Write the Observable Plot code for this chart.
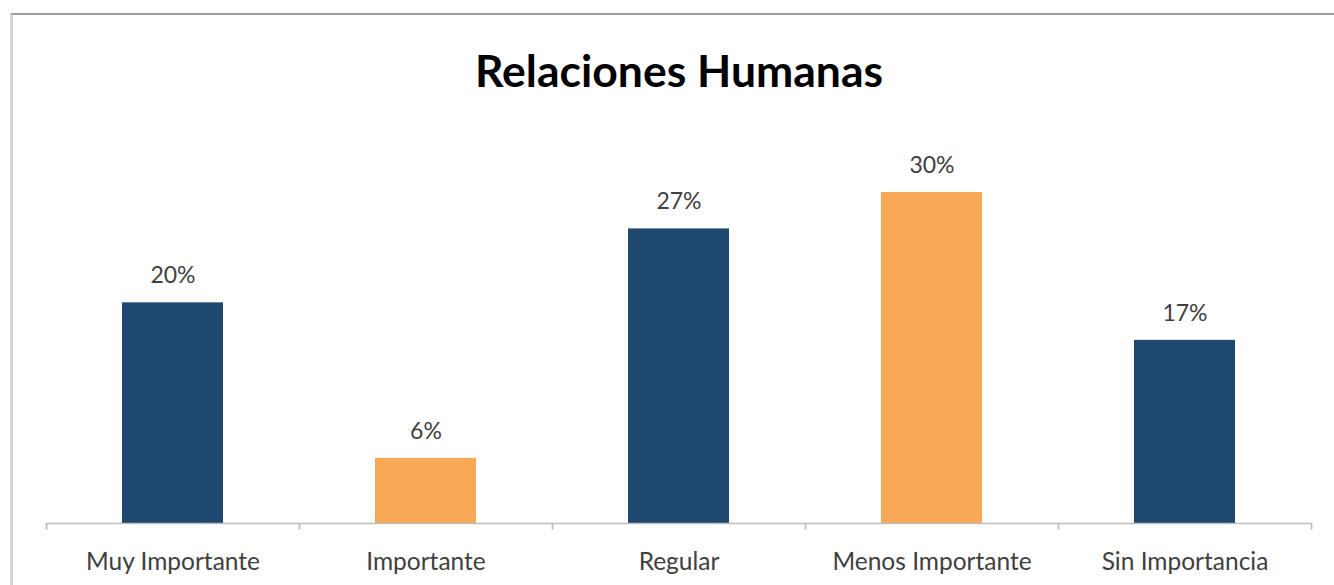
<!DOCTYPE html>
<html>
<head>
<meta charset="utf-8">
<script src="https://cdn.jsdelivr.net/npm/d3@7"></script>
<script src="https://cdn.jsdelivr.net/npm/@observablehq/plot@0.6"></script>
<style>
  html, body { margin: 0; padding: 0; background: #fff; overflow: hidden; }
  #wrap { position: relative; width: 1334px; height: 585px; }
  #frame { position: absolute; left: 10px; top: 13px; width: 1400px; height: 700px;
           border-top: 2px solid #9c9c9c; border-left: 3px solid #d4d4d4; box-sizing: border-box; }
  #chart { position: absolute; left: 0; top: 0; }
</style>
</head>
<body>
<div id="wrap"><div id="frame"></div><div id="chart"></div></div>
<script>
const title = "Relaciones Humanas";
const categories = ["Muy Importante", "Importante", "Regular", "Menos Importante", "Sin Importancia"];
const values = [20, 5.9, 26.7, 30, 16.6];
const valueLabels = ["20%", "6%", "27%", "30%", "17%"];
const colors = ["#1f4871", "#f9a857", "#1f4871", "#f9a857", "#1f4871"];

const data = categories.map((c, i) => ({cat: c, v: values[i], label: valueLabels[i], color: colors[i]}));

const left = 46, right = 1311;
const step = (right - left) / categories.length;
const font = "Lato, 'Open Sans', sans-serif";

const chart = Plot.plot({
  width: 1334,
  height: 585,
  marginTop: 0,
  marginLeft: left,
  marginRight: 1334 - right,
  marginBottom: 0,
  style: {fontFamily: font, background: "transparent"},
  x: {domain: categories, paddingInner: 0.6, paddingOuter: 0.3, axis: null},
  y: {domain: [0, 30], range: [523, 192], axis: null},
  marks: [
    Plot.barY(data, {x: "cat", y: "v", fill: "color"}),
    Plot.ruleY([0], {stroke: "#bdbdbd", strokeWidth: 1.6}),
    Plot.ruleX(categories, {x: d => d, dx: -step / 2, y1: 0, y2: -0.6, stroke: "#bdbdbd", strokeWidth: 1.8}),
    Plot.ruleX([categories[categories.length - 1]], {x: d => d, dx: step / 2, y1: 0, y2: -0.6, stroke: "#bdbdbd", strokeWidth: 1.8}),
    Plot.text(data, {x: "cat", y: "v", text: "label", dy: -27, lineAnchor: "middle", fontSize: 23, fill: "#404040"}),
    Plot.text(data, {x: "cat", y: 0, text: "cat", dy: 39, lineAnchor: "middle", fontSize: 24.5, fill: "#404040"}),
    Plot.text([title], {frameAnchor: "top", dy: 72, lineAnchor: "middle", fontSize: 44.5, fontWeight: "bold", fill: "#000", text: d => d})
  ]
});
document.getElementById("chart").appendChild(chart);
</script>
</body>
</html>
